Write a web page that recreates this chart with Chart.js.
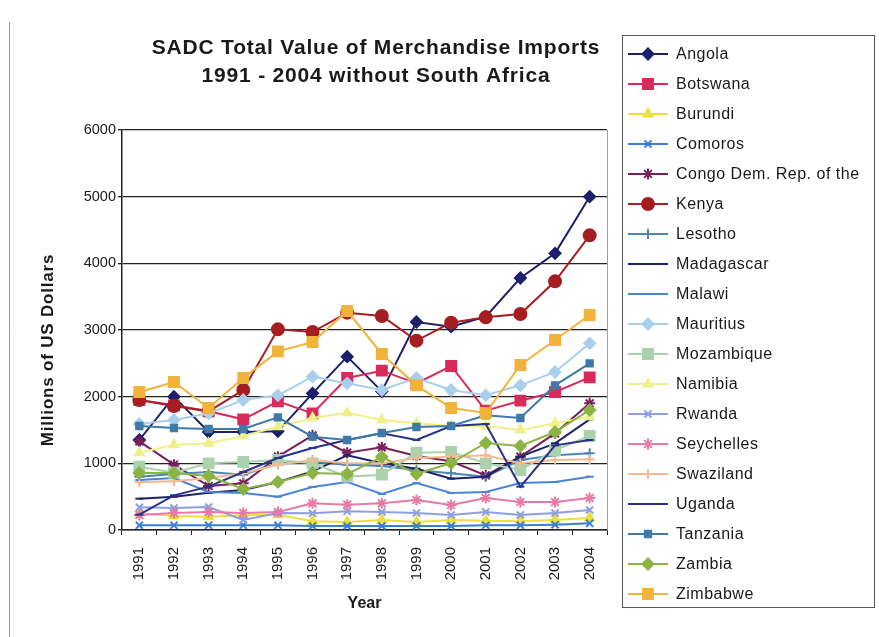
<!DOCTYPE html>
<html>
<head>
<meta charset="utf-8">
<script src="https://cdn.jsdelivr.net/npm/chart.js@4"></script>
<style>
  html, body { margin: 0; padding: 0; background: #fff; }
  #wrap { width: 879px; height: 637px; }
</style>
</head>
<body>
<div id="wrap"><canvas id="chart1" width="879" height="637"></canvas></div>
<script>
// Data (millions of US dollars)
const years = ['1991', '1992', '1993', '1994', '1995', '1996', '1997', '1998', '1999', '2000', '2001', '2002', '2003', '2004'];
const yTicks = [0, 1000, 2000, 3000, 4000, 5000, 6000];
const titleLines = ['SADC Total Value of Merchandise Imports', '1991 - 2004 without South Africa'];

const countries = ['Angola', 'Botswana', 'Burundi', 'Comoros', 'Congo Dem. Rep. of the', 'Kenya', 'Lesotho',
    'Madagascar', 'Malawi', 'Mauritius', 'Mozambique', 'Namibia', 'Rwanda', 'Seychelles', 'Swaziland',
    'Uganda', 'Tanzania', 'Zambia', 'Zimbabwe'];

const angola     = [1350, 2000, 1470, 1470, 1480, 2050, 2600, 2080, 3120, 3050, 3200, 3780, 4150, 5000];
const botswana   = [1950, 1870, 1780, 1660, 1930, 1750, 2280, 2390, 2200, 2460, 1790, 1940, 2070, 2290];
const burundi    = [250, 210, 200, 220, 230, 130, 120, 150, 120, 150, 140, 130, 150, 180];
const comoros    = [70, 70, 70, 70, 70, 60, 60, 60, 60, 60, 70, 70, 80, 100];
const congo      = [1330, 980, 660, 700, 1100, 1420, 1160, 1240, 1110, 1030, 820, 1100, 1450, 1900];
const kenya      = [1950, 1860, 1780, 2100, 3010, 2970, 3260, 3210, 2840, 3110, 3190, 3240, 3730, 4420];
const lesotho    = [800, 840, 870, 830, 1000, 1020, 980, 960, 900, 850, 800, 1050, 1120, 1150];
const madagascar = [470, 500, 560, 600, 720, 880, 1120, 1000, 920, 770, 800, 1100, 1300, 1660];
const malawi     = [750, 780, 570, 555, 500, 645, 720, 540, 705, 555, 570, 705, 720, 800];
const mauritius  = [1590, 1650, 1750, 1950, 2020, 2300, 2200, 2100, 2280, 2100, 2020, 2170, 2370, 2800];
const mozambique = [950, 860, 1000, 1020, 1050, 1000, 800, 830, 1160, 1170, 1000, 900, 1200, 1410];
const namibia    = [1160, 1280, 1300, 1410, 1550, 1680, 1760, 1650, 1600, 1560, 1560, 1500, 1600, 1700];
const rwanda     = [340, 330, 345, 150, 255, 250, 280, 270, 255, 225, 270, 225, 255, 300];
const seychelles = [225, 255, 270, 255, 270, 400, 380, 400, 450, 375, 480, 420, 420, 480];
const swaziland  = [720, 730, 780, 850, 980, 1050, 1000, 1000, 1080, 1100, 1120, 1000, 1050, 1060];
const uganda     = [230, 520, 650, 870, 1080, 1230, 1350, 1450, 1350, 1560, 1590, 650, 1270, 1350];
const tanzania   = [1560, 1530, 1515, 1515, 1690, 1400, 1350, 1455, 1545, 1560, 1720, 1680, 2170, 2500];
const zambia     = [855, 855, 810, 615, 720, 855, 840, 1095, 840, 1005, 1305, 1260, 1470, 1800];
const zimbabwe   = [2070, 2220, 1830, 2280, 2680, 2820, 3285, 2640, 2170, 1830, 1755, 2475, 2850, 3225];

const seriesValues = [angola, botswana, burundi, comoros, congo, kenya, lesotho, madagascar, malawi,
    mauritius, mozambique, namibia, rwanda, seychelles, swaziland, uganda, tanzania, zambia, zimbabwe];

// Look of each series: colour, marker, marker size
const seriesStyle = [
    ['#1c1f6b', 'rectRot', 5.5],
    ['#d92a5c', 'rect', 7],
    ['#ecdf3a', 'triangle', 5],
    ['#3b7fd4', 'crossRot', 5],
    ['#7a1f5a', 'star', 5.5],
    ['#a51e22', 'circle', 6],
    ['#4d86b3', 'cross', 5],
    ['#1e2466', 'line', 4],
    ['#4a86d8', 'line', 4],
    ['#a9cfec', 'rectRot', 5.5],
    ['#a9d2ad', 'rect', 7],
    ['#eef08a', 'triangle', 5],
    ['#8d9fe2', 'crossRot', 5],
    ['#e77aa6', 'star', 5.5],
    ['#f4b990', 'cross', 5],
    ['#27338a', 'line', 4],
    ['#3f7aa8', 'rect', 4.5],
    ['#8bb443', 'rectRot', 5.5],
    ['#f2b33a', 'rect', 7]
];

const FONT = "'Liberation Sans', Arial, sans-serif";

const datasets = countries.map((name, i) => ({
    label: name,
    data: seriesValues[i],
    borderColor: seriesStyle[i][0],
    backgroundColor: seriesStyle[i][0],
    pointStyle: seriesStyle[i][1],
    pointRadius: seriesStyle[i][2],
    pointBorderWidth: 2,
    borderWidth: 2,
    tension: 0,
    fill: false,
    order: -i
}));

// Title, y axis title, borders and the boxed legend on the right
const decorations = {
    id: 'decorations',
    beforeDraw(chart) {
        const ctx = chart.ctx;
        ctx.save();
        ctx.fillStyle = '#ffffff';
        ctx.fillRect(0, 0, chart.width, chart.height);
        ctx.restore();
    },
    afterDraw(chart) {
        const ctx = chart.ctx;
        const area = chart.chartArea;
        ctx.save();

        // outer frame line on the left
        ctx.strokeStyle = '#9a9a9a';
        ctx.lineWidth = 1;
        ctx.beginPath();
        ctx.moveTo(9.5, 22);
        ctx.lineTo(9.5, 637);
        ctx.stroke();

        // plot area right edge
        ctx.strokeStyle = '#a0a0a0';
        ctx.beginPath();
        ctx.moveTo(area.right + 0.5, area.top);
        ctx.lineTo(area.right + 0.5, area.bottom);
        ctx.stroke();

        // chart title
        ctx.fillStyle = '#1a1a1a';
        ctx.textAlign = 'center';
        ctx.textBaseline = 'middle';
        ctx.font = 'bold 21px ' + FONT;
        ctx.letterSpacing = '0.8px';
        ctx.fillText(titleLines[0], 376, 48);
        ctx.fillText(titleLines[1], 376, 76);

        // y axis title
        ctx.save();
        ctx.translate(48, 350);
        ctx.rotate(-Math.PI / 2);
        ctx.font = 'bold 17px ' + FONT;
        ctx.letterSpacing = '0.8px';
        ctx.fillText('Millions of US Dollars', 0, 0);
        ctx.restore();

        // legend box
        ctx.strokeStyle = '#555';
        ctx.lineWidth = 1;
        ctx.strokeRect(622.5, 35.5, 252, 572);

        ctx.textAlign = 'left';
        ctx.font = '16px ' + FONT;
        ctx.letterSpacing = '0.5px';
        chart.data.datasets.forEach((ds, i) => {
            const y = 54 + i * 30;
            ctx.strokeStyle = ds.borderColor;
            ctx.fillStyle = ds.backgroundColor;
            ctx.lineWidth = 2;
            ctx.beginPath();
            ctx.moveTo(628, y);
            ctx.lineTo(668, y);
            ctx.stroke();
            Chart.helpers.drawPoint(ctx, {
                pointStyle: ds.pointStyle,
                radius: ds.pointRadius,
                rotation: 0,
                borderWidth: 2
            }, 648, y);
            ctx.fillStyle = '#1a1a1a';
            ctx.fillText(ds.label, 676, y + 1);
        });

        ctx.restore();
    }
};

const ctx1 = document.getElementById('chart1').getContext('2d');
const chart1 = new Chart(ctx1, {
    type: 'line',
    data: {
        labels: years,
        datasets: datasets
    },
    options: {
        responsive: false,
        animation: false,
        layout: {
            padding: { top: 130, right: 272, left: 0, bottom: 0 }
        },
        plugins: {
            legend: { display: false },
            title: { display: false },
            tooltip: { enabled: false }
        },
        scales: {
            x: {
                offset: true,
                afterFit: scale => { scale.height = 107; },
                grid: {
                    display: true,
                    offset: true,
                    drawOnChartArea: false,
                    drawTicks: true,
                    tickLength: 5,
                    color: '#222'
                },
                border: { display: true, color: '#222', width: 1.5 },
                ticks: {
                    minRotation: 90,
                    maxRotation: 90,
                    autoSkip: false,
                    padding: 12,
                    color: '#1a1a1a',
                    font: { family: FONT, size: 15 }
                },
                title: {
                    display: true,
                    text: 'Year',
                    color: '#1a1a1a',
                    font: { family: FONT, size: 16, weight: 'bold' },
                    padding: { top: 4, bottom: 24 }
                }
            },
            y: {
                min: 0,
                max: 6000,
                afterFit: scale => { scale.width = 122; },
                afterBuildTicks: scale => { scale.ticks = yTicks.map(v => ({ value: v })); },
                grid: {
                    color: '#222',
                    lineWidth: 1.3,
                    drawTicks: true,
                    tickLength: 4
                },
                border: { display: true, color: '#222', width: 1.5 },
                ticks: {
                    padding: 2,
                    color: '#1a1a1a',
                    font: { family: FONT, size: 14.5 },
                    callback: v => String(v)
                }
            }
        }
    },
    plugins: [decorations]
});
</script>
</body>
</html>
